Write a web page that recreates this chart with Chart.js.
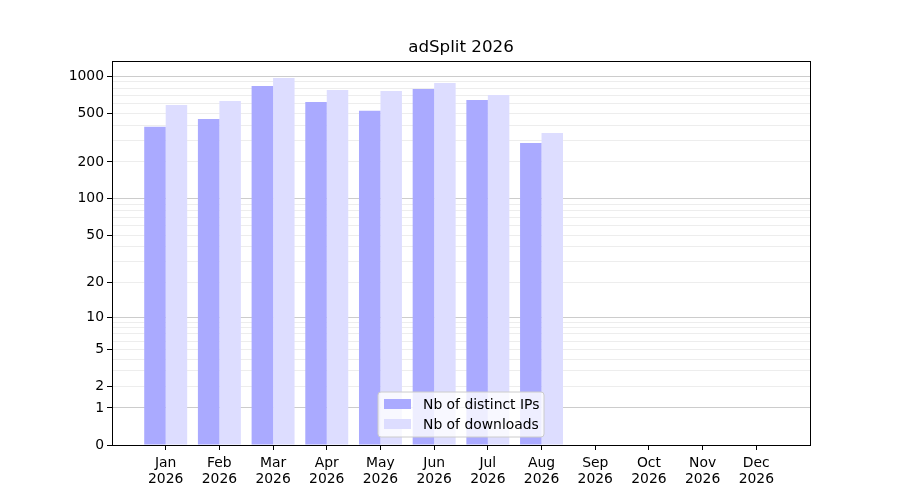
<!DOCTYPE html>
<html>
<head>
<meta charset="utf-8">
<title>adSplit 2026</title>
<script src="https://cdn.jsdelivr.net/npm/chart.js"></script>
<style>
  body { margin: 0; background: #fff; }
  #chart-container { width: 900px; height: 500px; }
</style>
</head>
<body>
<div id="chart-container">
  <canvas id="downloadsChart" width="900" height="500"></canvas>
</div>
<script>
// values
const chartTitle = 'adSplit 2026';
const months = ['Jan', 'Feb', 'Mar', 'Apr', 'May', 'Jun', 'Jul', 'Aug', 'Sep', 'Oct', 'Nov', 'Dec'];
const year = '2026';
const distinctIps = [387, 449, 834, 617, 522, 788, 641, 286, 0, 0, 0, 0];
const downloads = [584, 629, 968, 773, 759, 882, 704, 345, 0, 0, 0, 0];
const yTickLabels = [0, 1, 2, 5, 10, 20, 50, 100, 200, 500, 1000];
const yMajorLines = [1, 10, 100, 1000];
const yMinorLines = [2, 3, 4, 5, 6, 7, 8, 9, 20, 30, 40, 50, 60, 70, 80, 90,
                     200, 300, 400, 500, 600, 700, 800, 900];

const FONT = 'DejaVu Sans';

// y axis on log10(v + 1), so 0 sits at the bottom
class Log1pScale extends Chart.Scale {
  determineDataLimits() {
    const { min, max } = this.getMinMax(true);
    this.min = this.options.min ?? min;
    this.max = this.options.max ?? max;
  }
  buildTicks() {
    const all = [0].concat(yMajorLines, yMinorLines).sort((a, b) => a - b);
    return all.filter(v => v >= this.min && v <= this.max).map(v => ({ value: v }));
  }
  getLabelForValue(v) { return String(v); }
  configure() {
    super.configure();
    this._start = Math.log10(this.min + 1);
    this._range = Math.log10(this.max + 1) - this._start;
  }
  getPixelForValue(v) {
    if (v === undefined || isNaN(v)) v = this.min;
    return this.getPixelForDecimal((Math.log10(Math.max(v, 0) + 1) - this._start) / this._range);
  }
  getValueForPixel(p) {
    return Math.pow(10, this._start + this.getDecimalForPixel(p) * this._range) - 1;
  }
}
Log1pScale.id = 'log1p';
Log1pScale.defaults = {};
Chart.register(Log1pScale);

// title, frame and legend as matplotlib draws them
const decorPlugin = {
  id: 'decor',
  afterDraw(chart) {
    const { ctx, chartArea: a } = chart;
    ctx.save();
    ctx.strokeStyle = '#000';
    ctx.lineWidth = 1;
    ctx.strokeRect(a.left + 0.5, a.top + 0.5, a.right - a.left, a.bottom - a.top);

    ctx.fillStyle = '#000';
    ctx.font = '16.7px "' + FONT + '"';
    ctx.textAlign = 'center';
    ctx.textBaseline = 'alphabetic';
    ctx.fillText(chartTitle, (a.left + a.right) / 2, 52);

    // legend box, lower centre
    const bx = 378, by = 392, bw = 166, bh = 45, r = 3;
    ctx.beginPath();
    ctx.moveTo(bx + r, by);
    ctx.arcTo(bx + bw, by, bx + bw, by + bh, r);
    ctx.arcTo(bx + bw, by + bh, bx, by + bh, r);
    ctx.arcTo(bx, by + bh, bx, by, r);
    ctx.arcTo(bx, by, bx + bw, by, r);
    ctx.closePath();
    ctx.fillStyle = 'rgba(255,255,255,0.8)';
    ctx.fill();
    ctx.strokeStyle = '#cccccc';
    ctx.stroke();

    ctx.font = '13.9px "' + FONT + '"';
    ctx.textAlign = 'left';
    ctx.textBaseline = 'middle';
    chart.data.datasets.forEach((ds, i) => {
      const cy = by + 12 + i * 20;
      ctx.fillStyle = ds.backgroundColor;
      ctx.fillRect(bx + 6, cy - 5, 27, 10);
      ctx.fillStyle = '#000';
      ctx.fillText(ds.label, bx + 45, cy + 1);
    });
    ctx.restore();
  }
};

const ctx = document.getElementById('downloadsChart').getContext('2d');
new Chart(ctx, {
  type: 'bar',
  data: {
    datasets: [{
      label: 'Nb of distinct IPs',
      data: distinctIps.map((v, i) => ({ x: i, y: v })),
      backgroundColor: '#aaaaff',
      borderWidth: 0
    }, {
      label: 'Nb of downloads',
      data: downloads.map((v, i) => ({ x: i, y: v })),
      backgroundColor: '#ddddff',
      borderWidth: 0
    }]
  },
  options: {
    responsive: false,
    animation: false,
    categoryPercentage: 0.8,
    barPercentage: 1.0,
    layout: { padding: { top: 61, right: 90, left: 0, bottom: 0 } },
    plugins: {
      legend: { display: false },
      title: { display: false },
      tooltip: { enabled: false }
    },
    scales: {
      x: {
        type: 'linear',
        min: -1,
        max: 12,
        offset: false,
        border: { display: false },
        grid: { offset: false, drawOnChartArea: false, color: '#000', tickLength: 5 },
        ticks: {
          stepSize: 1,
          autoSkip: false,
          maxRotation: 0,
          padding: 5,
          color: '#000',
          font: { family: FONT, size: 13.9, lineHeight: 1.18 },
          callback: v => [months[v], year]
        },
        afterBuildTicks: s => { s.ticks = s.ticks.filter(t => t.value >= 0 && t.value < months.length); },
        afterFit: s => { s.height = 55; }
      },
      y: {
        type: 'log1p',
        min: 0,
        max: 1330,
        z: 1,
        border: { display: false },
        grid: {
          tickLength: 5,
          color: c => {
            const v = c.tick && c.tick.value;
            if (v === 0) return 'rgba(0,0,0,0)';
            return yMajorLines.includes(v) ? 'rgba(0,0,0,0.2)' : 'rgba(0,0,0,0.07)';
          },
          tickColor: c => yTickLabels.includes(c.tick && c.tick.value) ? '#000' : 'rgba(0,0,0,0)'
        },
        ticks: {
          padding: 3,
          color: '#000',
          autoSkip: false,
          font: { family: FONT, size: 13.9 },
          callback: v => yTickLabels.includes(v) ? String(v) : ''
        },
        afterFit: s => { s.width = 112; }
      }
    }
  },
  plugins: [decorPlugin]
});
</script>
</body>
</html>
